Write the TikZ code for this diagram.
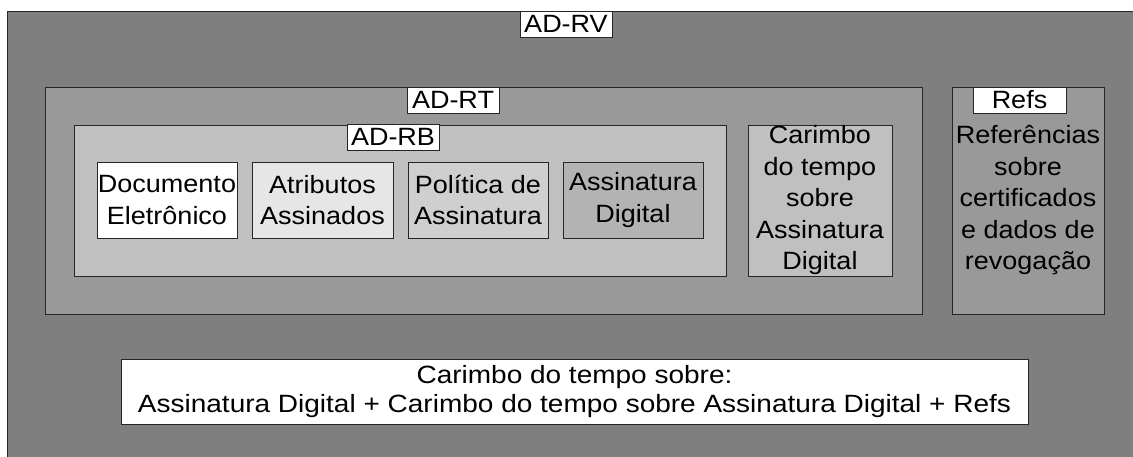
\documentclass[tikz,border=0pt]{standalone}
\usepackage{fontspec}
\setmainfont{Liberation Sans}[FakeStretch=1.08]
\newfontfamily\widefont{Liberation Sans}[FakeStretch=1.12]
\definecolor{rvfill}{HTML}{807F80}
\definecolor{rtfill}{HTML}{999999}
\definecolor{rbfill}{HTML}{C0C0C0}
\definecolor{atfill}{HTML}{E6E6E6}
\definecolor{pofill}{HTML}{CFCFCF}
\definecolor{asfill}{HTML}{B3B3B3}
\definecolor{edge}{HTML}{262626}
\tikzset{
  box/.style={draw=edge, line width=0.9pt, inner sep=0pt, align=center,
    font=\fontsize{25}{31.5}\selectfont},
  lbl/.style={box, fill=white, minimum height=26},
}
\begin{document}
\begin{tikzpicture}[x=1pt,y=-1pt]
\useasboundingbox (0,0) rectangle (1133,457);
% containers
\node[box, fill=rvfill, minimum width=1133, minimum height=454] (rv) at (573.5,238) {};
\node[box, fill=rtfill, minimum width=877, minimum height=227] (rt) at (483.5,200.5) {};
\node[box, fill=rbfill, minimum width=652, minimum height=151] (rb) at (400,200.5) {};
% inner boxes
\node[box, fill=white, minimum width=140, minimum height=76] (doc) at (167,200) {Documento\\Eletrônico};
\node[box, fill=atfill, minimum width=141, minimum height=76] (atr) at (322.5,200) {Atributos\\Assinados};
\node[box, fill=pofill, minimum width=140, minimum height=76] (pol) at (478,200) {Política de\\Assinatura};
\node[box, fill=asfill, minimum width=140, minimum height=76] (asd) at (633,200) {Assinatura\\Digital};
\node[box, fill=rbfill, minimum width=144, minimum height=151] (cts) at (820,200.5) {Carimbo\\do tempo\\sobre\\Assinatura\\Digital};
\node[box, fill=rtfill, minimum width=152, minimum height=227] (refs) at (1028,200.5) {Referências\\sobre\\certificados\\e dados de\\revogação};
% labels
\node[lbl, minimum width=92] (lrv) at (566,24) {AD-RV};
\node[lbl, minimum width=92] (lrt) at (453,100) {AD-RT};
\node[lbl, minimum width=92] (lrb) at (393,137) {AD-RB};
\node[lbl, minimum width=93] (lrefs) at (1019.5,100) {Refs};
% bottom
\node[box, fill=white, minimum width=907, minimum height=65,
  font=\widefont\fontsize{25}{29}\selectfont] (bot) at (574.5,391.5)
  {Carimbo do tempo sobre:\\Assinatura Digital + Carimbo do tempo sobre Assinatura Digital + Refs};
\end{tikzpicture}
\end{document}
